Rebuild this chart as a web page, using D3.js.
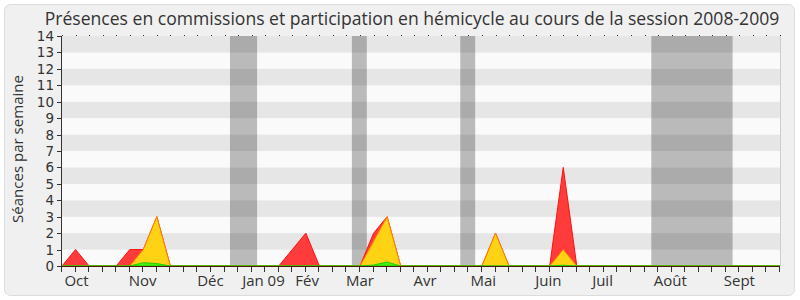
<!DOCTYPE html>
<html>
<head>
<meta charset="utf-8">
<script src="https://cdn.jsdelivr.net/npm/d3@7"></script>
<style>
  body { margin: 0; background: #ffffff; }
  text { font-family: "Open Sans", "DejaVu Sans", sans-serif; fill: #333333; }
  text.ytick { font-family: "DejaVu Sans", sans-serif; }
</style>
</head>
<body>
<div id="chart"></div>
<script>
// data - one value per week of the session (week 0 = end of september 2008)
var weeks = d3.range(0, 54);
var commissions = [0,1,0,0,0,1,1,3,0,0, 0,0,0,0,0,0,0,1,2,0, 0,0,0,2,3,0,0,0,0,0, 0,0,2,0,0,0,0,6,0,0, 0,0,0,0,0,0,0,0,0,0, 0,0,0,0];
var hemicycle   = [0,0,0,0,0,0,1,3,0,0, 0,0,0,0,0,0,0,0,0,0, 0,0,0,1.5,3,0,0,0,0,0, 0,0,2,0,0,0,0,1,0,0, 0,0,0,0,0,0,0,0,0,0, 0,0,0,0];
var interventions = [0,0,0,0,0,0,0.2,0.15,0,0, 0,0,0,0,0,0,0,0,0,0, 0,0,0,0.06,0.24,0,0,0,0,0, 0,0,0,0,0,0,0,0.05,0,0, 0,0,0,0,0,0,0,0,0,0, 0,0,0,0];

// holidays, in weeks (start, end)
var vacStart = [12.4, 21.4, 29.4, 43.5];
var vacEnd   = [14.4, 22.5, 30.5, 49.5];

// month labels and where they sit (in weeks)
var monthLabels = ["Oct", "Nov", "Déc", "Jan 09", "Fév", "Mar", "Avr", "Mai", "Juin", "Juil", "Août", "Sept"];
var monthPos    = [1.07, 5.95, 10.96, 14.87, 18.1, 22.0, 26.8, 31.1, 35.9, 39.9, 44.9, 50.0];

var yTicks = d3.range(0, 15);
var titleText = "Présences en commissions et participation en hémicycle au cours de la session 2008-2009";

var holder = d3.select("#chart")
    .append("svg")
    .attr("width", 800)
    .attr("height", 300);

// background frame
holder.append("rect")
    .attr("x", 4.5)
    .attr("y", 4.5)
    .attr("width", 790)
    .attr("height", 291)
    .attr("rx", 6)
    .style("fill", "#f0f0f0")
    .style("stroke", "#dcdcdc");

var x = d3.scaleLinear().domain([0, 53]).range([62, 780]);
var y = d3.scaleLinear().domain([0, 14]).range([266, 36]);

// stripes
holder.append("g")
    .selectAll("rect")
    .data(d3.range(0, 14))
    .enter()
    .append("rect")
    .attr("x", x(0))
    .attr("y", function(d) { return y(d + 1); })
    .attr("width", x(53) - x(0))
    .attr("height", function(d) { return y(d) - y(d + 1); })
    .style("fill", function(d) { return d % 2 == 0 ? "#fafafa" : "#e6e6e6"; });

// holidays
holder.append("g")
    .selectAll("rect")
    .data(vacStart)
    .enter()
    .append("rect")
    .attr("x", function(d) { return x(d); })
    .attr("y", y(14))
    .attr("width", function(d, i) { return x(vacEnd[i]) - x(d); })
    .attr("height", y(0) - y(14))
    .style("fill", "#000000")
    .style("fill-opacity", 0.255);

// right border of the plot
holder.append("line")
    .attr("x1", x(53) + 0.5).attr("x2", x(53) + 0.5)
    .attr("y1", y(14)).attr("y2", y(0))
    .style("stroke", "#cccccc");

// dots along the top
holder.append("g")
    .selectAll("rect")
    .data(weeks)
    .enter()
    .append("rect")
    .attr("x", function(d) { return Math.round(x(d)); })
    .attr("y", y(14) - 1)
    .attr("width", 1)
    .attr("height", 1)
    .style("fill", "#333333");

// areas
var series = [
    {values: commissions, fill: "#ff3b3b", stroke: "#ff1010"},
    {values: hemicycle, fill: "#ffd314", stroke: "#ff8000"},
    {values: interventions, fill: "#44ee11", stroke: "#22cc00"}
];

var area = d3.area()
    .x(function(d, i) { return x(i); })
    .y0(y(0))
    .y1(function(d) { return y(d); });

holder.append("g")
    .selectAll("path")
    .data(series)
    .enter()
    .append("path")
    .attr("d", function(d) { return area(d.values); })
    .style("fill", function(d) { return d.fill; })
    .style("stroke", function(d) { return d.stroke; })
    .style("stroke-width", 1);

// x axis line
holder.append("line")
    .attr("x1", x(0)).attr("x2", x(53))
    .attr("y1", y(0) + 0.5).attr("y2", y(0) + 0.5)
    .style("stroke", "#4a1a08");

// y axis line
holder.append("line")
    .attr("x1", x(0) - 0.5).attr("x2", x(0) - 0.5)
    .attr("y1", y(14)).attr("y2", y(0) + 5)
    .style("stroke", "#333333");

// x ticks
holder.append("g")
    .selectAll("line")
    .data(weeks)
    .enter()
    .append("line")
    .attr("x1", function(d) { return Math.round(x(d)) - 0.5; })
    .attr("x2", function(d) { return Math.round(x(d)) - 0.5; })
    .attr("y1", y(0) + 1)
    .attr("y2", y(0) + 6)
    .style("stroke", "#333333");

// y ticks and labels
holder.append("g")
    .selectAll("line")
    .data(yTicks)
    .enter()
    .append("line")
    .attr("x1", x(0) - 5)
    .attr("x2", x(0))
    .attr("y1", function(d) { return Math.round(y(d)) + 0.5; })
    .attr("y2", function(d) { return Math.round(y(d)) + 0.5; })
    .style("stroke", "#333333");

holder.append("g")
    .selectAll("text")
    .data(yTicks)
    .enter()
    .append("text")
    .attr("class", "ytick")
    .attr("x", x(0) - 8)
    .attr("y", function(d) { return y(d) + 5; })
    .attr("text-anchor", "end")
    .style("font-size", "13.5px")
    .text(function(d) { return d; });

// month labels
holder.append("g")
    .selectAll("text")
    .data(monthLabels)
    .enter()
    .append("text")
    .attr("x", function(d, i) { return x(monthPos[i]); })
    .attr("y", 286)
    .attr("text-anchor", "middle")
    .style("font-size", "15px")
    .text(function(d) { return d; });

// y axis title
var ytitle = holder.append("text")
    .attr("transform", "translate(23,149) rotate(-90)")
    .attr("text-anchor", "middle")
    .style("font-size", "15px")
    .text("Séances par semaine");
var yw = ytitle.node().getComputedTextLength();
ytitle.style("font-size", (15 * 148 / yw) + "px");

// title
var title = holder.append("text")
    .attr("x", 412)
    .attr("y", 25)
    .attr("text-anchor", "middle")
    .style("font-size", "16px")
    .text(titleText);
var tw = title.node().getComputedTextLength();
title.style("font-size", (16 * 735 / tw) + "px");
</script>
</body>
</html>
